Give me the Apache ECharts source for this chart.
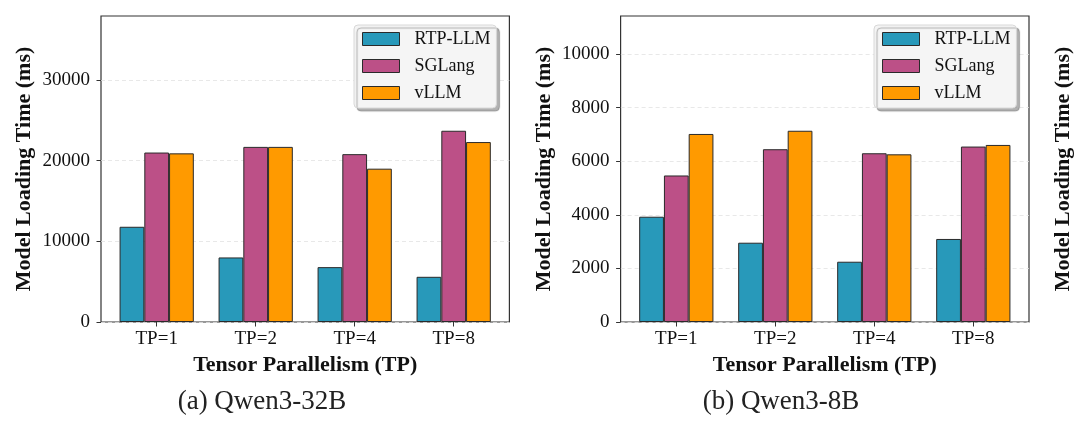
<!DOCTYPE html>
<html>
<head>
<meta charset="utf-8">
<title>Model Loading Time</title>
<script src="https://cdn.jsdelivr.net/npm/echarts@6/dist/echarts.min.js"></script>
<style>
  html, body { margin: 0; padding: 0; background: #fff; }
  #chart { width: 1080px; height: 421px; }
</style>
</head>
<body>
<div id="chart"></div>
<script>
// 数据
const categories = ['TP=1', 'TP=2', 'TP=4', 'TP=8'];
const seriesNames = ['RTP-LLM', 'SGLang', 'vLLM'];
const seriesColors = ['#2899ba', '#bc5087', '#ff9a00'];

const qwen32bRtp = [11800, 8000, 6800, 5600];
const qwen32bSglang = [21000, 21700, 20800, 23700];
const qwen32bVllm = [20900, 21700, 19000, 22300];

const qwen8bRtp = [3930, 2960, 2250, 3100];
const qwen8bSglang = [5470, 6450, 6300, 6550];
const qwen8bVllm = [7020, 7140, 6260, 6610];

const ticks32b = [0, 10000, 20000, 30000];
const ticks8b = [0, 2000, 4000, 6000, 8000, 10000];
const yMax32b = 37920;
const yMax8b = 11424;

const captions = ['(a) Qwen3-32B', '(b) Qwen3-8B'];
const yTitle = 'Model Loading Time (ms)';
const xTitle = 'Tensor Parallelism (TP)';

const serif = 'Liberation Serif';
const myChart = echarts.init(document.getElementById('chart'));

// 每个子图：一个外框 grid + 一个放柱子的 grid（模拟 matplotlib 的边距）
function frameGrid(left) {
    return { left: left, top: 16, width: 408.4, height: 306, show: true,
             borderColor: '#333', borderWidth: 1.2, backgroundColor: 'transparent' };
}
function barGrid(left) {
    return { left: left + 6.2, top: 16, width: 396, height: 306 };
}

function frameYAxis(gridIndex, max, ticks, nameGap) {
    return {
        type: 'value', gridIndex: gridIndex, min: 0, max: max,
        name: yTitle, nameLocation: 'middle', nameGap: nameGap,
        nameTextStyle: { fontFamily: serif, fontWeight: 'bold', fontSize: 22, color: '#111' },
        axisLine: { show: false },
        axisTick: { show: true, length: 4.5, customValues: ticks, lineStyle: { color: '#333', width: 1 } },
        axisLabel: { customValues: ticks, formatter: v => String(v),
                     fontFamily: serif, fontSize: 19, color: '#111', margin: 11 },
        splitLine: { show: true, lineStyle: { color: '#e2e2e2', type: [4, 3], width: 0.8 } }
    };
}

function barXAxis(gridIndex) {
    return {
        type: 'category', gridIndex: gridIndex, data: categories,
        name: xTitle, nameLocation: 'middle', nameGap: 31,
        nameTextStyle: { fontFamily: serif, fontWeight: 'bold', fontSize: 22, color: '#111' },
        axisLine: { show: false },
        axisTick: { show: true, alignWithLabel: true, length: 4.5, lineStyle: { color: '#333', width: 1 } },
        axisLabel: { fontFamily: serif, fontSize: 19, color: '#111', margin: 8 },
        splitLine: { show: false }
    };
}

function makeBars(xIndex, data) {
    return data.map((values, i) => ({
        name: seriesNames[i],
        type: 'bar',
        xAxisIndex: xIndex,
        yAxisIndex: xIndex,
        data: values,
        barWidth: '25%',
        barGap: '0%',
        itemStyle: { color: seriesColors[i], borderColor: '#2a2a2a', borderWidth: 1 },
        emphasis: { disabled: true }
    }));
}

function makeLegend(left) {
    return {
        left: left, top: 25, orient: 'vertical',
        data: seriesNames,
        icon: 'rect',
        itemWidth: 37, itemHeight: 13, itemGap: 9,
        padding: [5, 6, 6, 8],
        backgroundColor: '#f5f5f5',
        borderColor: '#d8d8d8', borderWidth: 1, borderRadius: 4,
        shadowColor: 'rgba(0,0,0,0.3)', shadowBlur: 1, shadowOffsetX: 3, shadowOffsetY: 3,
        itemStyle: { borderColor: '#2a2a2a', borderWidth: 1 },
        textStyle: { fontFamily: serif, fontSize: 18, color: '#111', padding: [0, 0, 0, 10] }
    };
}

function caption(text, x) {
    return { type: 'text', x: x, y: 402,
             style: { text: text, fontFamily: serif, fontSize: 27, fill: '#222',
                      textAlign: 'center', textVerticalAlign: 'middle' } };
}

const option = {
    animation: false,
    color: seriesColors,
    grid: [frameGrid(101), barGrid(101), frameGrid(620.6), barGrid(620.6)],
    xAxis: [
        { type: 'value', gridIndex: 0, min: 0, max: 1, show: false },
        barXAxis(1),
        { type: 'value', gridIndex: 2, min: 0, max: 1, show: false },
        barXAxis(3)
    ],
    yAxis: [
        frameYAxis(0, yMax32b, ticks32b, 66),
        { type: 'value', gridIndex: 1, min: 0, max: yMax32b, show: false },
        frameYAxis(2, yMax8b, ticks8b, 65),
        { type: 'value', gridIndex: 3, min: 0, max: yMax8b, show: false }
    ],
    legend: [makeLegend(354), makeLegend(874)],
    series: [
        ...makeBars(1, [qwen32bRtp, qwen32bSglang, qwen32bVllm]),
        ...makeBars(3, [qwen8bRtp, qwen8bSglang, qwen8bVllm])
    ],
    graphic: [
        caption(captions[0], 262),
        caption(captions[1], 781),
        // 右侧被截断的第三个子图的 y 轴标题
        { type: 'text', x: 1063, y: 169, rotation: Math.PI / 2,
          style: { text: yTitle, fontFamily: serif, fontWeight: 'bold', fontSize: 22, fill: '#111',
                   textAlign: 'center', textVerticalAlign: 'middle' } }
    ]
};

myChart.setOption(option);
window.addEventListener('resize', () => myChart.resize());
</script>
</body>
</html>
